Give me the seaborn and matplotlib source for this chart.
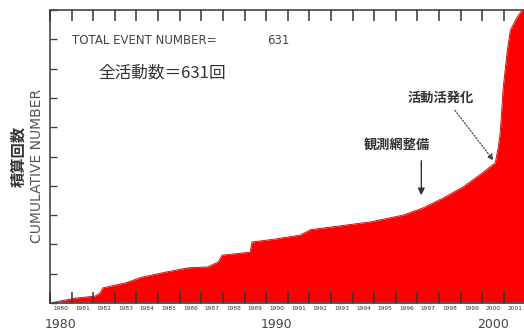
import matplotlib
matplotlib.use("Agg")
import matplotlib.pyplot as plt
import matplotlib.transforms as mtransforms
import seaborn as sns
import numpy as np
import pandas as pd

# ---- data ----
years = [1980.0, 1980.23, 1980.69, 1981.16, 1982.08, 1982.3, 1982.45, 1983.47,
         1984.26, 1985.32, 1986.39, 1987.31, 1987.78, 1987.96, 1989.26, 1989.35,
         1990.42, 1991.57, 1992.04, 1994.81, 1996.34, 1997.27, 1998.19, 1999.12,
         2000.05, 2000.6, 2000.74, 2000.83, 2000.97, 2001.16, 2001.3, 2001.62,
         2001.85, 2002.0]
counts = [0, 2, 6, 10, 14, 20, 31, 41,
          53, 63, 72, 74, 84, 98, 104, 125,
          131, 139, 150, 166, 180, 195, 215, 238,
          268, 287, 319, 348, 442, 518, 559, 586,
          600, 631]
tick_years = list(range(1980, 2003))
small_labels = [str(y) for y in range(1980, 2002)]
big_labels = ["1980", "1990", "2000"]
total_events = 631

sns.set_style("white")
plt.rcParams['font.family'] = ['DejaVu Sans', 'Noto Sans CJK JP']

df = pd.DataFrame({"year": years, "count": counts})

fig = plt.figure(figsize=(5.24, 3.32), dpi=100)
ax = fig.add_axes([50/524, 29/332, (525.5-50)/524, 293/332])
ax.set_axisbelow(False)

ax.fill_between(df["year"], 0, df["count"], color="#ff0000", lw=0, zorder=1)
sns.lineplot(data=df, x="year", y="count", ax=ax, color="#c00000", lw=0.6,
             zorder=1.5, legend=False)

ax.set_xlim(1980, 2002)
ax.set_ylim(0, 600)
ax.set_xlabel("")
ax.set_ylabel("")

spine_c = "#555555"
for s in ["left", "top", "bottom"]:
    ax.spines[s].set_color(spine_c)
    ax.spines[s].set_linewidth(1.3)
ax.spines["right"].set_visible(False)

ax.xaxis.set_ticks_position("both")
ax.set_xticks(tick_years)
ax.set_xticklabels([])
ax.set_xticks([y + 0.5 for y in range(1980, 2002)], minor=True)
ax.set_xticklabels(small_labels, minor=True, fontsize=4.2, color="#333333")
ax.tick_params(axis="x", which="major", direction="in", length=8, width=1.1,
               color="#333333", top=True, bottom=True, labeltop=False)
ax.tick_params(axis="x", which="minor", length=0, pad=2, top=False,
               labeltop=False, labelbottom=True)
ax.set_yticks(np.arange(0, 601, 60))
ax.set_yticklabels([])
ax.tick_params(axis="y", which="major", direction="in", length=5, width=1.0,
               color="#444444", left=True, right=False)

# big decade labels under the small year labels
trans = mtransforms.blended_transform_factory(ax.transData, fig.transFigure)
for lab in big_labels:
    ax.text(int(lab) + 0.5, 1 - 324/332, lab, transform=trans, ha="center",
            va="center", fontsize=9, color="#444444")

cjk = ['Noto Sans CJK JP', 'DejaVu Sans']

# axis titles
fig.text(18/524, 1 - 156/332, "積算回数", rotation=90, ha="center", va="center",
         fontsize=11, color="#333333", family=cjk, fontweight="bold")
fig.text(37/524, 1 - 166/332, "CUMULATIVE NUMBER", rotation=90, ha="center",
         va="center", fontsize=10, color="#555555")

# in-plot texts
fig.text(72/524, 1 - 41/332, "TOTAL EVENT NUMBER=", ha="left", va="center",
         fontsize=8.5, color="#444444")
fig.text(267/524, 1 - 41/332, str(total_events), ha="left", va="center",
         fontsize=8.5, color="#444444")
fig.text(98/524, 1 - 73/332, f"全活動数＝{total_events}回", ha="left", va="center",
         fontsize=12, color="#333333", family=cjk)

ax.text(1998.06, 420, "活動活発化", ha="center", va="center", fontsize=9.5,
        color="#333333", family=cjk, fontweight="bold")
ax.annotate("", xy=(2000.6, 287), xytext=(1998.66, 399),
            arrowprops=dict(arrowstyle="-|>", linestyle=(0, (1, 1.5)), lw=0.9,
                            color="#444444", mutation_scale=9))
ax.text(1996.06, 324, "観測網整備", ha="center", va="center", fontsize=9.5,
        color="#333333", family=cjk, fontweight="bold")
ax.annotate("", xy=(1997.18, 215), xytext=(1997.18, 297),
            arrowprops=dict(arrowstyle="-|>", lw=1.0, color="#333333",
                            mutation_scale=10))

fig.savefig("out.png", dpi=100)
